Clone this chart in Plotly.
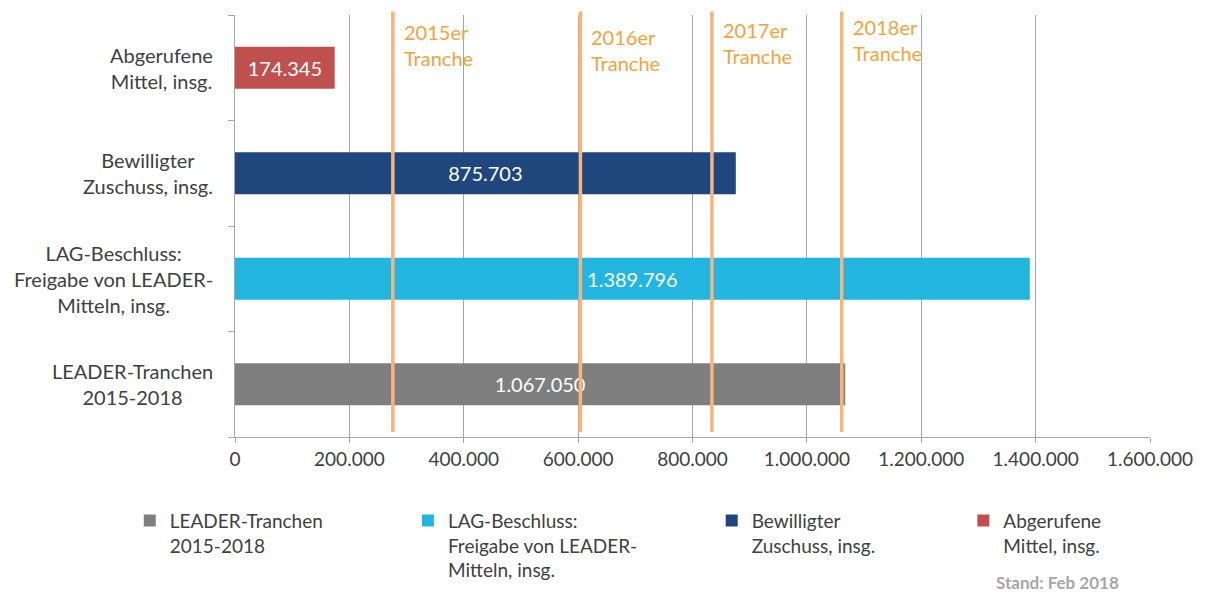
import plotly.graph_objects as go

# ---- data ----
categories = [
    "LEADER-Tranchen<br>2015-2018",
    "LAG-Beschluss:<br>Freigabe von LEADER-<br>Mitteln, insg.",
    "Bewilligter<br>Zuschuss, insg.",
    "Abgerufene<br>Mittel, insg.",
]
values = [1067050, 1389796, 875703, 174345]
bar_colors = ["#7F7F7F", "#22B5E0", "#1F477D", "#C0504D"]

tranche_labels = ["2015er<br>Tranche", "2016er<br>Tranche", "2017er<br>Tranche", "2018er<br>Tranche"]
tranche_values = [276000, 604000, 834000, 1061000]

x_tick_values = [0, 200000, 400000, 600000, 800000, 1000000, 1200000, 1400000, 1600000]

FONT = "Lato, 'Noto Sans', sans-serif"
TEXT = "#404040"
GRID = "#A6A6A6"

fig = go.Figure()
legend_ids = ["legend", "legend2", "legend3", "legend4"]
for cat, val, col, lg in zip(categories, values, bar_colors, legend_ids):
    fig.add_trace(go.Bar(
        y=[cat], x=[val], orientation="h", name=cat,
        marker=dict(color=col, line=dict(width=0)),
        text=[val], texttemplate="%{x:,}", textposition="inside",
        insidetextanchor="middle",
        textfont=dict(color="#FFFFFF", size=20, family=FONT),
        legend=lg, hoverinfo="x+y",
    ))

# tranche marker lines + labels
label_y = [0.93, 0.918, 0.933, 0.94]
for tv, tl, ly in zip(tranche_values, tranche_labels, label_y):
    fig.add_shape(type="line", xref="x", yref="paper", x0=tv, x1=tv, y0=0.012, y1=1.008,
                  line=dict(color="#F8B47A", width=3.5), layer="above")
    fig.add_annotation(x=tv, y=ly, xref="x", yref="paper", text=tl, showarrow=False,
                       xanchor="left", yanchor="middle", xshift=9, align="left",
                       font=dict(color="#F3A33C", size=20, family=FONT))

# category labels (centered lines, right-aligned block)
for cat in categories:
    fig.add_annotation(x=0, y=cat, xref="paper", yref="y", text=cat, showarrow=False,
                       xanchor="right", yanchor="middle", xshift=-20, align="center",
                       font=dict(color=TEXT, size=20, family=FONT))

fig.add_annotation(x=0.899, y=-0.344, xref="paper", yref="paper", text="<b>Stand: Feb 2018</b>",
                   showarrow=False, xanchor="center", yanchor="middle",
                   font=dict(color="#A6A6A6", size=17, family=FONT))

legend_x = [-0.115, 0.189, 0.521, 0.796]
legend_common = dict(orientation="v", yanchor="top", xanchor="left", y=-0.153,
                     bgcolor="rgba(0,0,0,0)", valign="top",
                     font=dict(color=TEXT, size=19, family=FONT), itemclick=False)
layout_legends = {}
for lg, lx in zip(legend_ids, legend_x):
    layout_legends[lg] = dict(x=lx, **legend_common)

fig.update_layout(
    width=1198, height=584,
    margin=dict(l=227, r=56, t=7, b=155, autoexpand=False),
    paper_bgcolor="white", plot_bgcolor="white",
    barmode="overlay", bargap=0.6,
    separators=",.",
    showlegend=True,
    font=dict(family=FONT, color=TEXT),
    xaxis=dict(range=[0, 1600000], tickvals=x_tick_values, tickformat=",",
               showgrid=True, gridcolor=GRID, gridwidth=1,
               showline=True, linecolor=GRID, linewidth=1,
               ticks="outside", ticklen=5, tickcolor=GRID,
               tickfont=dict(size=19, color=TEXT, family=FONT), zeroline=False),
    yaxis=dict(categoryorder="array", categoryarray=categories,
               showticklabels=False, showgrid=False,
               showline=True, linecolor=GRID, linewidth=1,
               ticks="outside", tickson="boundaries", ticklen=6, tickcolor=GRID),
    **layout_legends,
)

fig.write_html("out.html")
